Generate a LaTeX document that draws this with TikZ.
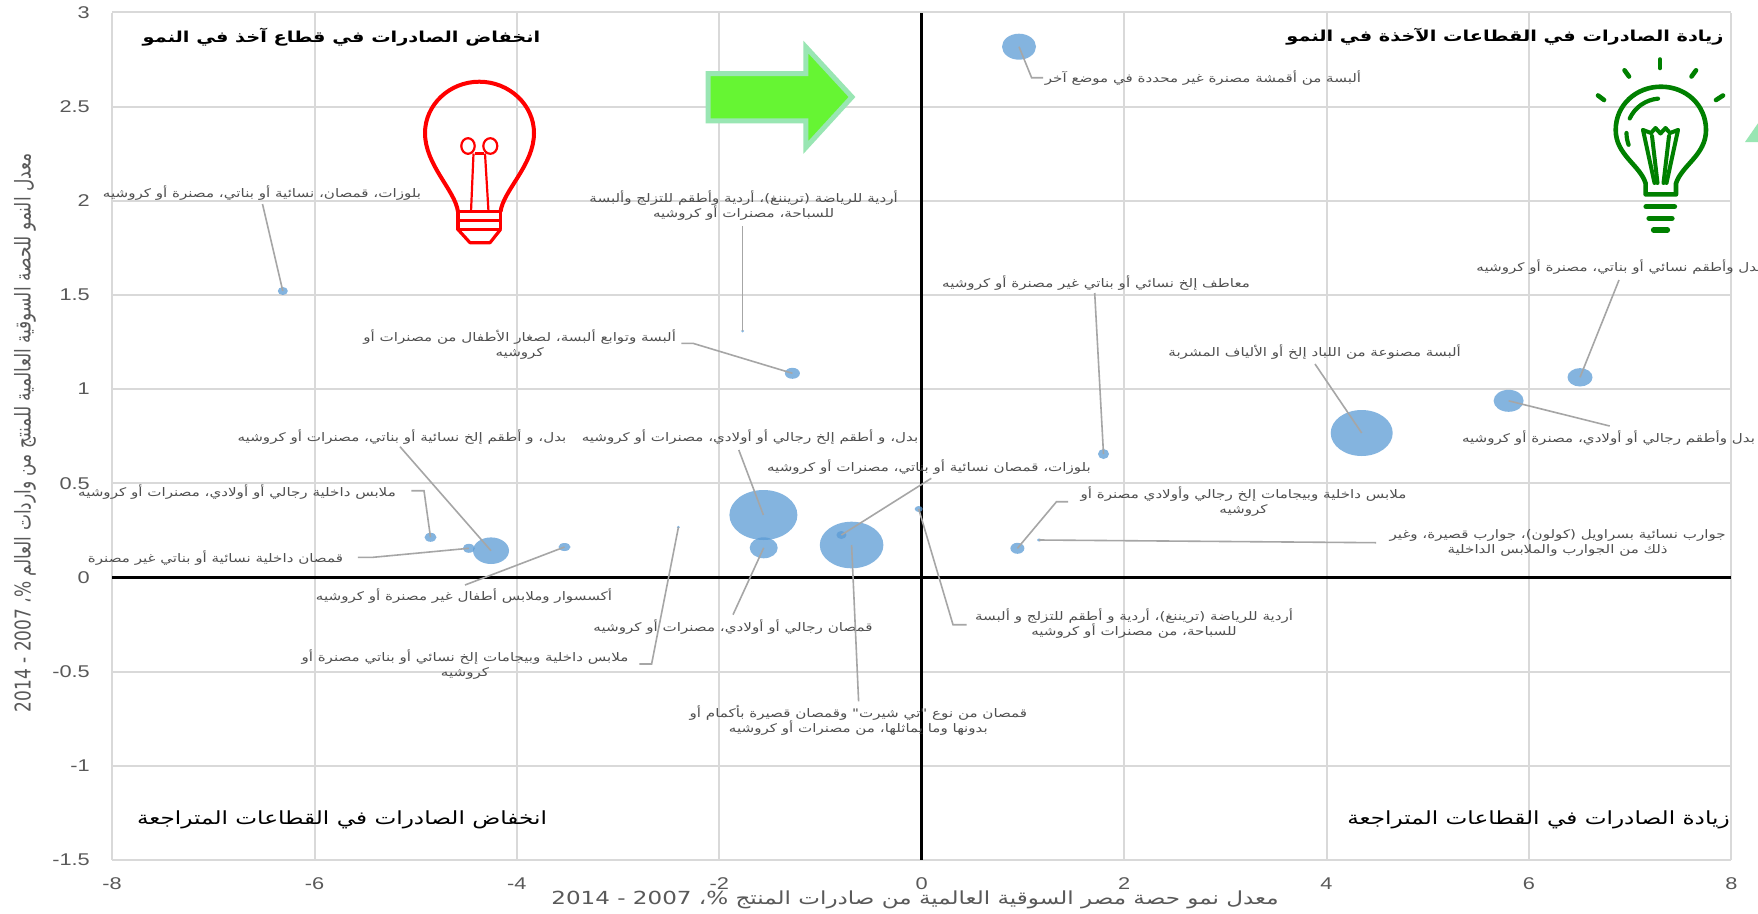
\documentclass[tikz,border=0pt]{standalone}
\usepackage{graphicx}
\usepackage{fontspec}
\setmainfont{Liberation Sans}
\newfontfamily\arabicfont[Script=Arabic]{DejaVu Sans}
\usetikzlibrary{shapes.geometric}
\TeXXeTstate=1
\newcommand\arsx{1.28}
\newcommand\ar[1]{\scalebox{\arsx}[1]{\arabicfont\beginR #1\endR}}
\newcommand\tk[1]{\scalebox{1.28}[1]{#1}}
\definecolor{gridc}{RGB}{217,217,217}
\definecolor{tickc}{RGB}{89,89,89}
\definecolor{labc}{RGB}{80,80,80}
\definecolor{leadc}{RGB}{166,166,166}
\definecolor{bubc}{RGB}{91,155,213}
\definecolor{arrowfill}{RGB}{102,245,51}
\definecolor{arrowedge}{RGB}{153,230,179}
\definecolor{bulbg}{RGB}{0,128,0}
\begin{document}
\begin{tikzpicture}[x=1pt,y=-1pt,
  gridline/.style={draw=gridc,line width=2pt},
  axisline/.style={draw=black,line width=3.2pt},
  tick/.style={text=tickc,font=\fontsize{17}{20}\selectfont,inner sep=0pt},
  lab/.style={text=labc,font=\fontsize{11.8}{15}\selectfont,inner sep=0pt,align=center},
  bub/.style={ellipse,fill=bubc,fill opacity=0.75,inner sep=0pt,draw=none},
  lead/.style={draw=leadc,line width=1.6pt},
  qtitle/.style={text=black,font=\fontsize{15.1}{20}\selectfont\bfseries,inner sep=0pt},
  qsub/.style={text=black,font=\fontsize{18.1}{20}\selectfont,inner sep=0pt},
  axtitle/.style={text=tickc,font=\fontsize{18}{20}\selectfont,inner sep=0pt},
  redbulb/.style={draw=red,line join=round},
  greenbulb/.style={draw=bulbg,line cap=round,line join=round}]
\useasboundingbox (0,0) rectangle (1758,913);
\fill[white] (0,0) rectangle (1758,913);

% grid
\foreach \gx in {-8,-6,-4,-2,2,4,6,8}
  \draw[gridline] ({921.7+101.2*\gx},13.4) -- ({921.7+101.2*\gx},860);
\foreach \gy in {-1.5,-1,-0.5,0.5,1,1.5,2,2.5,3}
  \draw[gridline] (112,{577.5-188.4*\gy}) -- (1731,{577.5-188.4*\gy});
% axes
\draw[axisline] (921.7,13.4) -- (921.7,860);
\draw[axisline] (112,577.5) -- (1731,577.5);

% tick labels
\foreach \v [count=\i] in {3,2.5,2,1.5,1,0.5,0,-0.5,-1,-1.5}
  \node[tick,anchor=east] (yt\i) at (90,{577.5-188.4*\v}) {\tk{\v}};
\foreach \v [count=\i] in {-8,-6,-4,-2,0,2,4,6,8}
  \node[tick] (xt\i) at ({921.7+101.2*\v},883.7) {\tk{\v}};

% axis titles
\node[axtitle] (xtitle) at (915,900) {\ar{معدل نمو حصة مصر السوقية العالمية من صادرات المنتج \%، 2007 - 2014}};
\node[axtitle,font=\fontsize{17}{20}\selectfont,rotate=90] (ytitle) at (25,432.6) {\scalebox{1}[1.28]{\arabicfont\beginR معدل النمو للحصة السوقية العالمية للمنتج من واردات العالم \%، 2007 - 2014\endR}};

% bubbles
\node[bub,minimum width=34pt,minimum height=26pt] (b1) at (1019,46.7) {};
\node[bub,minimum width=10pt,minimum height=8pt] (b2) at (282.8,291) {};
\node[bub,minimum width=3pt,minimum height=3pt] (b3) at (742.6,331) {};
\node[bub,minimum width=11pt,minimum height=10pt] (b4) at (1103.5,454) {};
\node[bub,minimum width=15pt,minimum height=11pt] (b5) at (792.4,373.3) {};
\node[bub,minimum width=36pt,minimum height=26.6pt] (b6) at (491,550.7) {};
\node[bub,minimum width=68pt,minimum height=50pt] (b7) at (763.4,515) {};
\node[bub,minimum width=12pt,minimum height=9pt] (b8) at (430.5,537.3) {};
\node[bub,minimum width=12pt,minimum height=9pt] (b9) at (468.8,548.3) {};
\node[bub,minimum width=12pt,minimum height=8pt] (b10) at (564.5,547) {};
\node[bub,minimum width=3pt,minimum height=3pt] (b11) at (678.4,527.3) {};
\node[bub,minimum width=28pt,minimum height=21pt] (b12) at (763.7,547.8) {};
\node[bub,minimum width=63.6pt,minimum height=46.6pt] (b14) at (851.6,545) {};
\node[bub,minimum width=10pt,minimum height=8pt] (b13) at (841.4,535) {};
\node[bub,minimum width=8pt,minimum height=6pt] (b15) at (918.7,509) {};
\node[bub,minimum width=14pt,minimum height=11pt] (b16) at (1017.4,548.3) {};
\node[bub,minimum width=4pt,minimum height=3pt] (b17) at (1039.2,540) {};
\node[bub,minimum width=62pt,minimum height=46pt] (b18) at (1361.7,433) {};
\node[bub,minimum width=30pt,minimum height=22pt] (b19) at (1508.6,400.8) {};
\node[bub,minimum width=25pt,minimum height=18.4pt] (b20) at (1580,377.3) {};

% labels
\node[lab] (l1) at (1203,77.7) {\ar{ألبسة من أقمشة مصنرة غير محددة في موضع آخر}};
\node[lab] (l2) at (262,193) {\ar{بلوزات، قمصان، نسائية أو بناتي، مصنرة أو كروشيه}};
\node[lab] (l3) at (743.6,205.8) {\ar{أردية للرياضة (تريننغ)، أردية وأطقم للتزلج وألبسة}\\\ar{للسباحة، مصنرات أو كروشيه}};
\node[lab] (l4) at (1096,282.7) {\ar{معاطف إلخ نسائي أو بناتي غير مصنرة أو كروشيه}};
\node[lab] (l5) at (519.7,344.7) {\ar{ألبسة وتوابع ألبسة، لصغار الأطفال من مصنرات أو}\\\ar{كروشيه}};
\node[lab] (l6) at (402,437) {\ar{بدل، و أطقم إلخ نسائية أو بناتي، مصنرات أو كروشيه}};
\node[lab] (l7) at (750,437) {\ar{بدل، و أطقم إلخ رجالي أو أولادي، مصنرات أو كروشيه}};
\node[lab] (l8) at (237,491.7) {\ar{ملابس داخلية رجالي أو أولادي، مصنرات أو كروشيه}};
\node[lab] (l9) at (215.5,558.3) {\ar{قمصان داخلية نسائية أو بناتي غير مصنرة}};
\node[lab] (l10) at (464,596) {\ar{أكسسوار وملابس أطفال غير مصنرة أو كروشيه}};
\node[lab] (l11) at (465,665) {\ar{ملابس داخلية وبيجامات إلخ نسائي أو بناتي مصنرة أو}\\\ar{كروشيه}};
\node[lab] (l12) at (733,627) {\ar{قمصان رجالي أو أولادي، مصنرات أو كروشيه}};
\node[lab] (l13) at (929,467.3) {\ar{بلوزات، قمصان نسائية أو بناتي، مصنرات أو كروشيه}};
\node[lab] (l14) at (858.4,720.7) {\ar{قمصان من نوع "تي شيرت" وقمصان قصيرة بأكمام أو}\\\ar{بدونها وما يماثلها، من مصنرات أو كروشيه}};
\node[lab] (l15) at (1134,623.8) {\ar{أردية للرياضة (تريننغ)، أردية و أطقم للتزلج و ألبسة}\\\ar{للسباحة، من مصنرات أو كروشيه}};
\node[lab] (l16) at (1243.5,501.8) {\ar{ملابس داخلية وبيجامات إلخ رجالي وأولادي مصنرة أو}\\\ar{كروشيه}};
\node[lab] (l17) at (1557.6,543) {\ar{جوارب نسائية بسراويل (كولون)، جوارب قصيرة، وغير}\\\ar{ذلك من الجوارب والملابس الداخلية}};
\node[lab] (l18) at (1314.6,351.7) {\ar{ألبسة مصنوعة من اللباد إلخ أو الألياف المشربة}};
\node[lab] (l19) at (1608.5,438.3) {\ar{بدل وأطقم رجالي أو أولادي، مصنرة أو كروشيه}};
\node[lab] (l20) at (1619,266.7) {\ar{بدل وأطقم نسائي أو بناتي، مصنرة أو كروشيه}};

% leader coordinates
\coordinate (c1a) at (1031.6,77.7); \coordinate (c1b) at (1043,77.7);
\coordinate (c2) at (262.5,204);
\coordinate (c3) at (742.6,226);
\coordinate (c4) at (1094.7,293);
\coordinate (c5a) at (681.4,343.3); \coordinate (c5b) at (692.9,343.3);
\coordinate (c6) at (400,446.7);
\coordinate (c7) at (738.8,450);
\coordinate (c8a) at (411.4,490.7); \coordinate (c8b) at (424,490.7);
\coordinate (c9a) at (357.8,557.3); \coordinate (c9b) at (373,557.3);
\coordinate (c10) at (465,585);
\coordinate (c11a) at (651.6,664); \coordinate (c11b) at (639.3,664);
\coordinate (c12) at (733,614.7);
\coordinate (c13) at (931.3,478.3);
\coordinate (c14) at (858.6,701.3);
\coordinate (c15a) at (953,624.7); \coordinate (c15b) at (966.5,624.7);
\coordinate (c16a) at (1068,501.7); \coordinate (c16b) at (1056.5,501.7);
\coordinate (c17) at (1376,542.7);
\coordinate (c18) at (1315,364);
\coordinate (c19) at (1609.7,426);
\coordinate (c20) at (1619,280);

% leaders
\draw[lead] (b1.center) -- (c1a) -- (c1b);
\draw[lead] (c2) -- (b2.center);
\draw[lead] (c3) -- (b3.center);
\draw[lead] (c4) -- (b4.center);
\draw[lead] (c5a) -- (c5b) -- (b5.center);
\draw[lead] (c6) -- (b6.center);
\draw[lead] (c7) -- (b7.center);
\draw[lead] (c8a) -- (c8b) -- (b8.center);
\draw[lead] (c9a) -- (c9b) -- (b9.center);
\draw[lead] (c10) -- (b10.center);
\draw[lead] (b11.center) -- (c11a) -- (c11b);
\draw[lead] (c12) -- (b12.center);
\draw[lead] (c13) -- (b13.center);
\draw[lead] (b14.center) -- (c14);
\draw[lead] (b15.center) -- (c15a) -- (c15b);
\draw[lead] (c16a) -- (c16b) -- (b16.center);
\draw[lead] (b17.center) -- (c17);
\draw[lead] (c18) -- (b18.center);
\draw[lead] (b19.center) -- (c19);
\draw[lead] (c20) -- (b20.center);

% quadrant titles
\node[qtitle] (q1) at (341.5,36.7) {\ar{انخفاض الصادرات في قطاع آخذ في النمو}};
\node[qtitle] (q2) at (1505,36.7) {\ar{زيادة الصادرات في القطاعات الآخذة في النمو}};
\node[qsub] (q3) at (342,819.7) {\ar{انخفاض الصادرات في القطاعات المتراجعة}};
\node[qsub] (q4) at (1538.5,819.7) {\ar{زيادة الصادرات في القطاعات المتراجعة}};

% green arrow
\draw[draw=arrowedge,fill=arrowfill,line width=5pt,line join=miter]
  (708,73.5) -- (805.8,73.5) -- (805.8,47) -- (852,97) -- (805.8,147.5) -- (805.8,120.8) -- (708,120.8) -- cycle;
\fill[arrowedge] (1745,142) -- (1763,116) -- (1763,142) -- cycle;

% red bulb
\draw[redbulb,line width=4pt] (458,211.7) .. controls (455,190) and (425,165) .. (425,133)
  .. controls (425,105) and (449.3,81.7) .. (479.3,81.7)
  .. controls (509.3,81.7) and (534,105) .. (534,133)
  .. controls (534,165) and (503.5,190) .. (500.5,211.7);
\draw[redbulb,line width=3.2pt] (458,211.7) rectangle (500.5,229.5);
\draw[redbulb,line width=3.2pt] (458,220.5) -- (500.5,220.5);
\draw[redbulb,line width=3.2pt] (458,229.5) -- (470,242.7) -- (490,242.7) -- (500.5,229.5);
\draw[redbulb,line width=2.2pt] (468,146) ellipse [x radius=6.7,y radius=7.8];
\draw[redbulb,line width=2.2pt] (490.3,146) ellipse [x radius=7,y radius=7.8];
\draw[redbulb,line width=2.2pt] (474.5,153.5) -- (484,153.5);
\draw[redbulb,line width=2.2pt] (473.5,153.5) -- (471,211.7);
\draw[redbulb,line width=2.2pt] (485,153.5) -- (488.5,211.7);

% green bulb
\draw[greenbulb,line width=4.6pt] (1660,59.5) -- (1660,68);
\draw[greenbulb,line width=4.6pt] (1624.5,70.3) -- (1629,76.5);
\draw[greenbulb,line width=4.6pt] (1696,70.3) -- (1691.5,76.5);
\draw[greenbulb,line width=4.6pt] (1598,95.5) -- (1604,100);
\draw[greenbulb,line width=4.6pt] (1723,95.5) -- (1716,100);
\draw[greenbulb,line width=4.6pt] (1645.6,183.3) .. controls (1640,165) and (1615.7,155) .. (1615.7,130)
  .. controls (1615.7,105) and (1636,86.7) .. (1661,86.7)
  .. controls (1686,86.7) and (1706,105) .. (1706,130)
  .. controls (1706,155) and (1682,165) .. (1676,183.3) -- (1676,194.4) -- (1645.6,194.4) -- cycle;
\draw[greenbulb,line width=4.2pt] (1661,133) ++(205:34.5) arc[start angle=205,end angle=265,radius=34.5];
\draw[greenbulb,line width=4.2pt] (1661,133) ++(160:34.5) arc[start angle=160,end angle=180,radius=34.5];
\draw[greenbulb,line width=5.2pt] (1646,206.7) -- (1674.5,206.7);
\draw[greenbulb,line width=5.2pt] (1649,218.3) -- (1672,218.3);
\draw[greenbulb,line width=5.2pt] (1653.5,230) -- (1667.5,230);
\draw[greenbulb,line width=4pt] (1643,130) -- (1651,133) -- (1655.5,128) -- (1660.5,133.5) -- (1665.5,128) -- (1670,133) -- (1678,130);
\draw[greenbulb,line width=4pt] (1643,130) -- (1654.5,183);
\draw[greenbulb,line width=4pt] (1652,136) -- (1657.5,183);
\draw[greenbulb,line width=4pt] (1678,130) -- (1666.5,183);
\draw[greenbulb,line width=4pt] (1669,136) -- (1663.5,183);
\end{tikzpicture}
\end{document}
